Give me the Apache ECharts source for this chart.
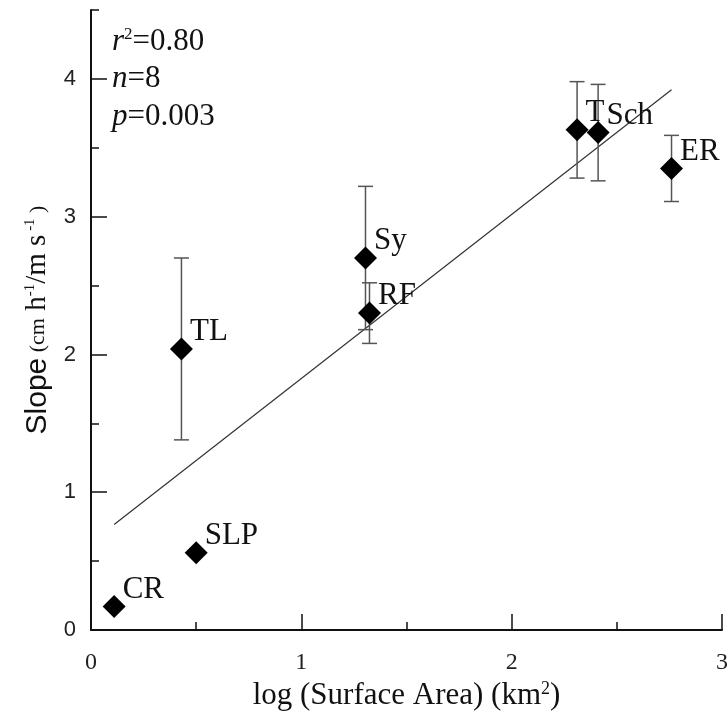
<!DOCTYPE html>
<html>
<head>
<meta charset="utf-8">
<script src="https://cdn.jsdelivr.net/npm/echarts@6/dist/echarts.min.js"></script>
<style>
  html, body { margin: 0; padding: 0; background: #fff; }
  #chart { width: 727px; height: 713px; }
</style>
</head>
<body>
<div id="chart"></div>
<script>
// Sites, log10 of lake surface area (km²) and fitted slope with its standard error
const siteNames = ['CR', 'SLP', 'TL', 'Sy', 'RF', 'T', 'Sch', 'ER'];
const logArea   = [0.11, 0.50, 0.43, 1.305, 1.324, 2.311, 2.411, 2.76];
const slope     = [0.17, 0.56, 2.04, 2.70, 2.30, 3.63, 3.61, 3.35];
const slopeErr  = [0, 0, 0.66, 0.52, 0.22, 0.35, 0.35, 0.24];

const xTicks = [0, 1, 2, 3];
const yTicks = [0, 1, 2, 3, 4];

// Statistics printed in the upper-left corner: [italic symbol, superscript, rest]
const statLines = [
  ['r', '2', '=0.80'],
  ['n', '', '=8'],
  ['p', '', '=0.003']
];

// Least-squares regression of slope on log area
function linearFit(xs, ys) {
  const n = xs.length;
  const mx = xs.reduce((a, b) => a + b, 0) / n;
  const my = ys.reduce((a, b) => a + b, 0) / n;
  let sxy = 0, sxx = 0;
  for (let i = 0; i < n; i++) {
    sxy += (xs[i] - mx) * (ys[i] - my);
    sxx += (xs[i] - mx) * (xs[i] - mx);
  }
  const b = sxy / sxx;
  return { b: b, a: my - b * mx };
}
const fit = linearFit(logArea, slope);
const xLo = Math.min.apply(null, logArea);
const xHi = Math.max.apply(null, logArea);
const fitLine = [[xLo, fit.a + fit.b * xLo], [xHi, fit.a + fit.b * xHi]];

const serif = '"Liberation Serif", "Times New Roman", serif';
const sans = '"Liberation Sans", Arial, sans-serif';
const ink = '#111';

const chart = echarts.init(document.getElementById('chart'), null, { renderer: 'canvas' });

const statGraphics = statLines.map((s, i) => ({
  type: 'text',
  left: 112,
  top: 26 + i * 37.5,
  style: {
    text: '{it|' + s[0] + '}' + (s[1] ? '{sup|' + s[1] + '}' : '') + '{t|' + s[2] + '}',
    rich: {
      it: { fontFamily: serif, fontStyle: 'italic', fontSize: 31, fill: ink },
      sup: { fontFamily: serif, fontSize: 17, fill: ink, verticalAlign: 'top', padding: [0, 0, 10, 0] },
      t: { fontFamily: serif, fontSize: 31, fill: ink }
    }
  }
}));

const option = {
  animation: false,
  backgroundColor: '#fff',
  grid: { left: 91, right: 5, top: 10, bottom: 83, outerBoundsMode: 'none' },
  graphic: statGraphics,
  xAxis: {
    type: 'value',
    min: 0, max: 3, interval: 1,
    name: '{a|log (Surface Area) (km}{s|2}{a|)}',
    nameLocation: 'middle',
    nameGap: 28,
    nameTextStyle: {
      rich: {
        a: { fontFamily: serif, fontSize: 31, color: ink },
        s: { fontFamily: serif, fontSize: 18, color: ink, verticalAlign: 'top' }
      }
    },
    axisLine: { show: true, lineStyle: { color: ink, width: 2 } },
    axisTick: { show: true, inside: true, length: 16, lineStyle: { color: ink, width: 1.5 } },
    minorTick: { show: true, splitNumber: 2, length: 8, lineStyle: { color: ink, width: 1.5 } },
    axisLabel: {
      customValues: xTicks,
      margin: 21,
      fontFamily: serif, fontSize: 24, color: '#222'
    },
    splitLine: { show: false },
    minorSplitLine: { show: false }
  },
  yAxis: [
    {
      type: 'value',
      min: 0, max: 4.5, interval: 1,
      position: 'left',
      name: '{s|Slope}{p| (cm}{h| h}{u|-1}{h|/m s}{u| -1}{p| )}',
      nameLocation: 'middle',
      nameRotate: 90,
      nameGap: 35,
      nameTextStyle: {
        rich: {
          s: { fontFamily: sans, fontSize: 30, color: ink },
          p: { fontFamily: serif, fontSize: 22, color: ink },
          h: { fontFamily: serif, fontSize: 29, color: ink },
          u: { fontFamily: serif, fontSize: 15, color: ink, verticalAlign: 'top' }
        }
      },
      axisLine: { show: true, lineStyle: { color: ink, width: 2 } },
      axisTick: { show: true, inside: true, length: 16, customValues: yTicks, lineStyle: { color: ink, width: 1.5 } },
      axisLabel: {
        customValues: yTicks,
        margin: 15,
        fontFamily: sans, fontSize: 22, color: '#222'
      },
      splitLine: { show: false }
    },
    {
      // half-unit ticks along the same left axis
      type: 'value',
      min: 0, max: 4.5, interval: 0.5,
      position: 'left',
      offset: 0,
      axisLine: { show: false },
      axisTick: { show: true, inside: true, length: 8, lineStyle: { color: ink, width: 1.5 } },
      axisLabel: { show: false },
      splitLine: { show: false }
    }
  ],
  series: [
    {
      type: 'line',
      data: fitLine,
      symbol: 'none',
      lineStyle: { color: '#333', width: 1.2 },
      z: 1,
      silent: true
    },
    {
      type: 'custom',
      z: 2,
      data: logArea.map((x, i) => [x, slope[i], slopeErr[i]]),
      renderItem: function (params, api) {
        const x = api.value(0), y = api.value(1), e = api.value(2);
        if (!e) return null;
        const top = api.coord([x, y + e]);
        const bot = api.coord([x, y - e]);
        const w = 7.5;
        const st = { stroke: '#555', lineWidth: 1.5 };
        return {
          type: 'group',
          children: [
            { type: 'line', shape: { x1: top[0], y1: top[1], x2: bot[0], y2: bot[1] }, style: st },
            { type: 'line', shape: { x1: top[0] - w, y1: top[1], x2: top[0] + w, y2: top[1] }, style: st },
            { type: 'line', shape: { x1: bot[0] - w, y1: bot[1], x2: bot[0] + w, y2: bot[1] }, style: st }
          ]
        };
      }
    },
    {
      type: 'scatter',
      z: 3,
      data: logArea.map((x, i) => [x, slope[i]]),
      symbol: 'diamond',
      symbolSize: 23,
      itemStyle: { color: '#000', opacity: 1 },
      label: {
        show: true,
        position: 'right',
        distance: 0,
        offset: [-3, -17],
        formatter: p => siteNames[p.dataIndex],
        fontFamily: serif,
        fontSize: 31,
        color: ink,
        opacity: 1
      }
    }
  ]
};

chart.setOption(option);
</script>
</body>
</html>
